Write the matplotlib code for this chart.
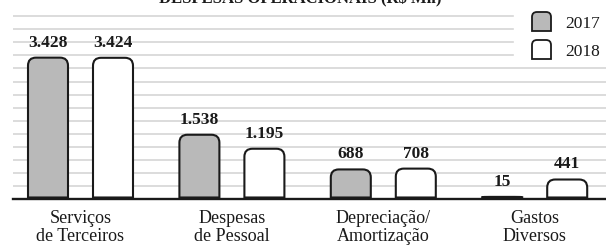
# Import libraries
import numpy as np
import matplotlib
matplotlib.use("Agg")
import matplotlib.pyplot as plt
from matplotlib.path import Path
from matplotlib.patches import PathPatch

# DATA
categories = ["Serviços\nde Terceiros", "Despesas\nde Pessoal",
              "Depreciação/\nAmortização", "Gastos\nDiversos"]
years = ["2017", "2018"]
values_2017 = [3428, 1538, 688, 15]
values_2018 = [3424, 1195, 708, 441]
title = "DESPESAS OPERACIONAIS (R$ Mil)"

plt.rcParams['font.family'] = ['Liberation Serif', 'DejaVu Serif']

FILL = {"2017": "#b9b9b9", "2018": "#ffffff"}
EDGE = "#1a1a1a"
GRID = "#d6d6d6"


def top_rounded(x0, y0, w, h, rx, ry):
    # rectangle with only the two top corners rounded
    ry = min(ry, h / 2)
    rx = min(rx, w / 2)
    x1, y1 = x0 + w, y0 + h
    verts = [(x0, y0), (x0, y1 - ry), (x0, y1), (x0 + rx, y1),
             (x1 - rx, y1), (x1, y1), (x1, y1 - ry), (x1, y0), (x0, y0)]
    codes = [Path.MOVETO, Path.LINETO, Path.CURVE3, Path.CURVE3,
             Path.LINETO, Path.CURVE3, Path.CURVE3, Path.LINETO, Path.CLOSEPOLY]
    return Path(verts, codes)


def fmt(v):
    return "{:,}".format(v).replace(",", ".")


fig = plt.figure(figsize=(6.06, 2.45), dpi=100)
W, H = 606, 245
# axes box in pixels: left 13, right 606, bottom 199, top 10
ax = fig.add_axes([13 / W, (H - 199) / H, (606 - 13) / W, (199 - 10) / H])

px_x = 151.4    # pixels per group
px_y = 0.0408   # pixels per unit
y_bottom = -1.5 / px_y
ax.set_xlim(-67.5 / px_x, 525.5 / px_x)
ax.set_ylim(y_bottom, y_bottom + 189 / px_y)

# horizontal guide lines, the top ones stop before the legend
step = 13.05 / px_y
for k in range(1, 15):
    xmax = (513 - 13) / 593 if k >= 11 else 1
    ax.axhline(y_bottom + k * step, xmin=0, xmax=xmax, color=GRID, lw=1.2, zorder=0)

x = np.arange(len(categories))
offset = 32.5 / px_x
width = 40 / px_x
rx, ry = 8 / px_x, 8 / px_y

for year, vals, sign in [("2017", values_2017, -1), ("2018", values_2018, 1)]:
    for xi, v in zip(x, vals):
        xc = xi + sign * offset
        path = top_rounded(xc - width / 2, 0, width, v, rx, ry)
        ax.add_patch(PathPatch(path, facecolor=FILL[year], edgecolor=EDGE,
                               lw=1.5, zorder=2))
        ax.annotate(fmt(v), (xc, v), xytext=(0, 8), textcoords='offset points',
                    ha='center', va='baseline', fontsize=12.5,
                    fontweight='bold', color='#1a1a1a')

# category names, baseline of the last line about 42 px below the axis
for xi, cat in zip(x, categories):
    ax.annotate(cat, (xi, 0), xycoords=ax.get_xaxis_transform(),
                xytext=(0, -30.3), textcoords='offset points',
                ha='center', va='baseline', fontsize=13,
                linespacing=1.05, color='#1a1a1a')

for s in ['top', 'right', 'left']:
    ax.spines[s].set_visible(False)
ax.spines['bottom'].set_linewidth(1.7)
ax.spines['bottom'].set_color(EDGE)
ax.spines['bottom'].set_zorder(3)
ax.set_xticks([])
ax.set_yticks([])

# legend drawn by hand (rounded boxes)
for year, top_px in [("2017", 12), ("2018", 40)]:
    path = top_rounded(5.32, (H - top_px - 19) / 100, 0.19, 0.19, 0.05, 0.05)
    fig.add_artist(PathPatch(path, facecolor=FILL[year], edgecolor=EDGE,
                             lw=1.3, transform=fig.dpi_scale_trans))
    fig.text(565 / W, (H - top_px - 16) / H, year, fontsize=12.5,
             va='baseline', ha='left', color='#1a1a1a')

# title, cut at the top of the picture as in the source
fig.text(300 / W, (H - 3.5) / H, title, ha='center', va='baseline',
         fontsize=12, fontweight='bold', color='#1a1a1a')

plt.savefig("out.png", dpi=100)
